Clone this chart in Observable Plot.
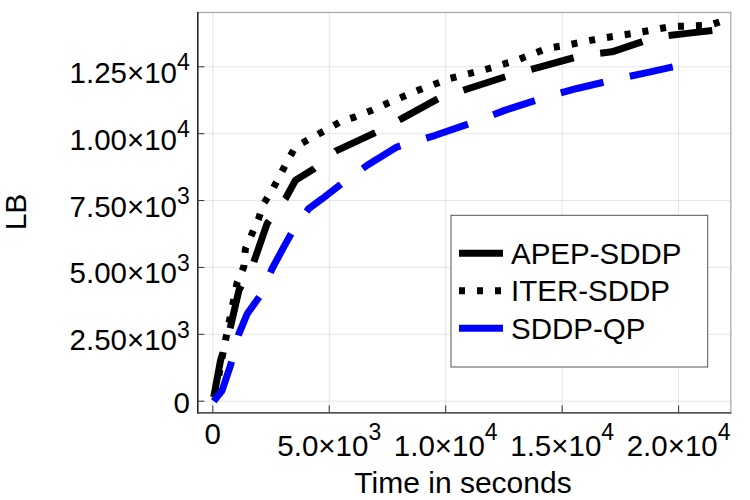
<!DOCTYPE html>
<html><head><meta charset="utf-8">
<script src="https://cdn.jsdelivr.net/npm/d3@7"></script>
<script src="https://cdn.jsdelivr.net/npm/@observablehq/plot@0.6"></script>
<style>body{margin:0;background:#fff}#chart svg{display:block}</style>
</head><body><div id="chart"></div>
<script>
// ---- data (time in seconds, lower bound LB) ----
const apepTime = [40, 330, 690, 1120, 1760, 2330, 3120, 3550, 4330, 5270, 6980, 8130, 9700, 10990, 12780, 14070, 15920, 17140, 19070, 20360, 21600];
const apepLB   = [150, 1520, 2520, 4140, 5200, 6640, 7575, 8260, 8680, 9350, 10040, 10570, 11320, 11690, 12190, 12500, 12940, 13060, 13620, 13750, 13870];

const iterTime = [117, 470, 1050, 1330, 1400, 1970, 2190, 2550, 3190, 3550, 4190, 4840, 5480, 6120, 6840, 7480, 8840, 10200, 11630, 13060, 14350, 15210, 16640, 18070, 19640, 21360, 21800];
const iterLB   = [290, 1960, 4450, 5020, 5700, 6830, 7390, 7890, 8950, 9510, 9820, 10130, 10450, 10630, 10880, 11130, 11630, 12070, 12380, 12750, 13190, 13310, 13560, 13750, 14000, 14060, 14190];

const qpTime = [40, 400, 760, 1120, 1480, 2050, 2550, 3050, 3410, 4120, 4700, 5550, 6630, 7900, 9560, 11270, 12560, 14350, 15640, 17500, 18790, 20720];
const qpLB   = [0, 400, 1340, 2520, 3270, 3960, 4960, 5770, 6330, 7200, 7570, 8140, 8820, 9500, 9940, 10450, 10880, 11380, 11690, 12070, 12310, 12690];

const seriesNames = ["APEP-SDDP", "ITER-SDDP", "SDDP-QP"];
const xTicks = [0, 5000, 10000, 15000, 20000];
const yTicks = [0, 2500, 5000, 7500, 10000, 12500];
const xLabel = "Time in seconds";
const yLabel = "LB";

// ---- build tables ----
const rows = (ts, ys) => ts.map((t, i) => ({t, lb: ys[i]}));
const apep = rows(apepTime, apepLB);
const iter = rows(iterTime, iterLB);
const qp = rows(qpTime, qpLB);

const sci = (digits) => (v) => {
  if (v === 0) return "0";
  const e = Math.floor(Math.log10(Math.abs(v)));
  const m = v / Math.pow(10, e);
  return m.toFixed(digits) + "×10^" + e;
};

const FONT = "Liberation Sans, Arial, Helvetica, sans-serif";
const lineStyle = {x: "t", y: "lb", strokeWidth: 7, strokeLinecap: "butt", strokeLinejoin: "miter"};

const chart = Plot.plot({
  width: 750,
  height: 500,
  marginLeft: 197.3,
  marginTop: 12,
  marginRight: 19.7,
  marginBottom: 87.7,
  style: {fontFamily: FONT, background: "white", color: "black"},
  x: {domain: [-644, 22241]},
  y: {domain: [-434, 14530]},
  marks: [
    Plot.gridX(xTicks, {stroke: "#000", strokeOpacity: 0.1, strokeWidth: 1}),
    Plot.gridY(yTicks, {stroke: "#000", strokeOpacity: 0.1, strokeWidth: 1}),
    Plot.line(apep, {...lineStyle, stroke: "black", strokeDasharray: "44,27"}),
    Plot.line(iter, {...lineStyle, stroke: "black", strokeDasharray: "6,12"}),
    Plot.line(qp, {...lineStyle, stroke: "#0000ff", strokeDasharray: "44,27"}),
    Plot.frame({stroke: "#aaa", strokeWidth: 1.3}),
    Plot.frame({anchor: "left", stroke: "black", strokeWidth: 1.2}),
    Plot.frame({anchor: "bottom", stroke: "#333", strokeWidth: 1.2}),
    Plot.axisX(xTicks, {tickSize: -7, tickPadding: 17, tickFormat: sci(1), fontSize: 29.5, label: null, stroke: "#333"}),
    Plot.axisY(yTicks, {tickSize: -7, tickPadding: 15, tickFormat: sci(2), fontSize: 29.5, label: null, stroke: "#333"})
  ]
});

document.getElementById("chart").appendChild(chart);
const svg = d3.select(chart);

// superscript exponents in tick labels
function rebuild(sel, plainDy, mantDy, expDy) {
  sel.each(function () {
    const t = d3.select(this);
    const s = this.textContent;
    t.text(null);
    if (s.includes("^")) {
      const [m, e] = s.split("^");
      t.append("tspan").attr("dy", mantDy).text(m);
      t.append("tspan").attr("dy", expDy).attr("font-size", 23).text(e);
    } else {
      t.append("tspan").attr("dy", plainDy).text(s);
    }
  });
}
rebuild(svg.selectAll('g[aria-label="y-axis tick label"] text'), 2.5, 6.5, -12.5);
rebuild(svg.selectAll('g[aria-label="x-axis tick label"] text'), 0, 12, -16);

// axis titles
svg.append("text").attr("x", 463).attr("y", 493).attr("text-anchor", "middle")
  .attr("font-family", FONT).attr("font-size", 30).attr("fill", "black").text(xLabel);
svg.append("text").attr("transform", "translate(26,212) rotate(-90)").attr("text-anchor", "middle")
  .attr("font-family", FONT).attr("font-size", 30).attr("fill", "black").text(yLabel);

// legend
const lg = svg.append("g").attr("font-family", FONT).attr("font-size", 29.5).attr("text-anchor", "start");
lg.append("rect").attr("x", 451).attr("y", 215.3).attr("width", 256.7).attr("height", 151.7)
  .attr("fill", "white").attr("stroke", "#555").attr("stroke-width", 1);
const legendItems = [
  {name: seriesNames[0], color: "black", dash: null},
  {name: seriesNames[1], color: "black", dash: "6,12"},
  {name: seriesNames[2], color: "#0000ff", dash: null}
];
legendItems.forEach((d, i) => {
  const y = 253.3 + i * 37.5;
  lg.append("line").attr("x1", 459).attr("x2", 503).attr("y1", y).attr("y2", y)
    .attr("stroke", d.color).attr("stroke-width", 7).attr("stroke-dasharray", d.dash);
  lg.append("text").attr("x", 511).attr("y", y + 10.5).attr("text-anchor", "start").attr("fill", "black").text(d.name);
});
</script>
</body></html>
